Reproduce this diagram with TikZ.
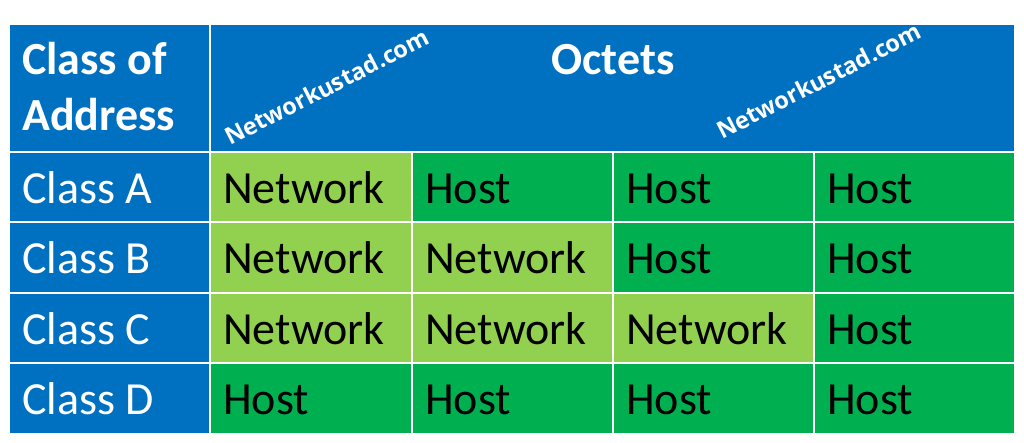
\documentclass[tikz,border=0pt]{standalone}
\usepackage{fontspec}
\setmainfont{Carlito}
\newfontfamily\wmfont{Open Sans}
\definecolor{hdrblue}{HTML}{0070C0}
\definecolor{lgreen}{HTML}{92D050}
\definecolor{dgreen}{HTML}{00B050}
\begin{document}
\begin{tikzpicture}[x=1pt,y=-1pt,
  cell/.style={draw=white,line width=2.5pt,inner sep=0pt,outer sep=0pt,anchor=north west},
  blue/.style={cell,fill=hdrblue},
  lg/.style={cell,fill=lgreen},
  dg/.style={cell,fill=dgreen},
  txt/.style={anchor=base west,inner sep=0pt,font=\fontsize{46}{56}\selectfont},
  wtxt/.style={txt,text=white},
  btxt/.style={txt,text=black},
  hdr/.style={anchor=base,inner sep=0pt,text=white,font=\fontsize{46}{56}\selectfont\bfseries},
  wm/.style={anchor=base west,inner sep=0pt,text=white,rotate=27,font=\wmfont\fontsize{23.5}{26}\selectfont\bfseries}]
\useasboundingbox (0,0) rectangle (1024,442);
\fill[white] (0,0) rectangle (1024,442);
% header
\node[blue,minimum width=201pt,minimum height=128pt] (h0) at (9,24) {};
\node[blue,minimum width=805pt,minimum height=128pt] (h1) at (210,24) {};
\node[anchor=base west,inner sep=0pt,text=white,font=\fontsize{46}{56}\selectfont\bfseries] (hl1) at (22,74) {Class of};
\node[anchor=base west,inner sep=0pt,text=white,font=\fontsize{46}{56}\selectfont\bfseries] (hl2) at (22,130) {Address};
\node[hdr] (oct) at (613,74) {Octets};
\node[wm] (wm1) at (230,146) {Networkustad.com};
\node[wm] (wm2) at (722,140) {Networkustad.com};
% rows
\foreach \r/\y/\lab/\a/\b/\c/\d in {
  a/152/Class A/lg/dg/dg/dg,
  b/222/Class B/lg/lg/dg/dg,
  c/293/Class C/lg/lg/lg/dg,
  d/363/Class D/dg/dg/dg/dg}{
  \node[blue,minimum width=201pt,minimum height=71pt] (\r0) at (9,\y) {};
  \node[\a,minimum width=202pt,minimum height=71pt] (\r1) at (210,\y) {};
  \node[\b,minimum width=201pt,minimum height=71pt] (\r2) at (412,\y) {};
  \node[\c,minimum width=201pt,minimum height=71pt] (\r3) at (613,\y) {};
  \node[\d,minimum width=201pt,minimum height=71pt] (\r4) at (814,\y) {};
  \node[wtxt] (\r0t) at ([xshift=13pt,yshift=-16pt]\r0.west) {\lab};
}
\node[btxt] (a1t) at ([xshift=13pt,yshift=-16pt]a1.west) {Network};
\node[btxt] (a2t) at ([xshift=13pt,yshift=-16pt]a2.west) {Host};
\node[btxt] (a3t) at ([xshift=13pt,yshift=-16pt]a3.west) {Host};
\node[btxt] (a4t) at ([xshift=13pt,yshift=-16pt]a4.west) {Host};
\node[btxt] (b1t) at ([xshift=13pt,yshift=-16pt]b1.west) {Network};
\node[btxt] (b2t) at ([xshift=13pt,yshift=-16pt]b2.west) {Network};
\node[btxt] (b3t) at ([xshift=13pt,yshift=-16pt]b3.west) {Host};
\node[btxt] (b4t) at ([xshift=13pt,yshift=-16pt]b4.west) {Host};
\node[btxt] (c1t) at ([xshift=13pt,yshift=-16pt]c1.west) {Network};
\node[btxt] (c2t) at ([xshift=13pt,yshift=-16pt]c2.west) {Network};
\node[btxt] (c3t) at ([xshift=13pt,yshift=-16pt]c3.west) {Network};
\node[btxt] (c4t) at ([xshift=13pt,yshift=-16pt]c4.west) {Host};
\node[btxt] (d1t) at ([xshift=13pt,yshift=-16pt]d1.west) {Host};
\node[btxt] (d2t) at ([xshift=13pt,yshift=-16pt]d2.west) {Host};
\node[btxt] (d3t) at ([xshift=13pt,yshift=-16pt]d3.west) {Host};
\node[btxt] (d4t) at ([xshift=13pt,yshift=-16pt]d4.west) {Host};
\end{tikzpicture}
\end{document}
